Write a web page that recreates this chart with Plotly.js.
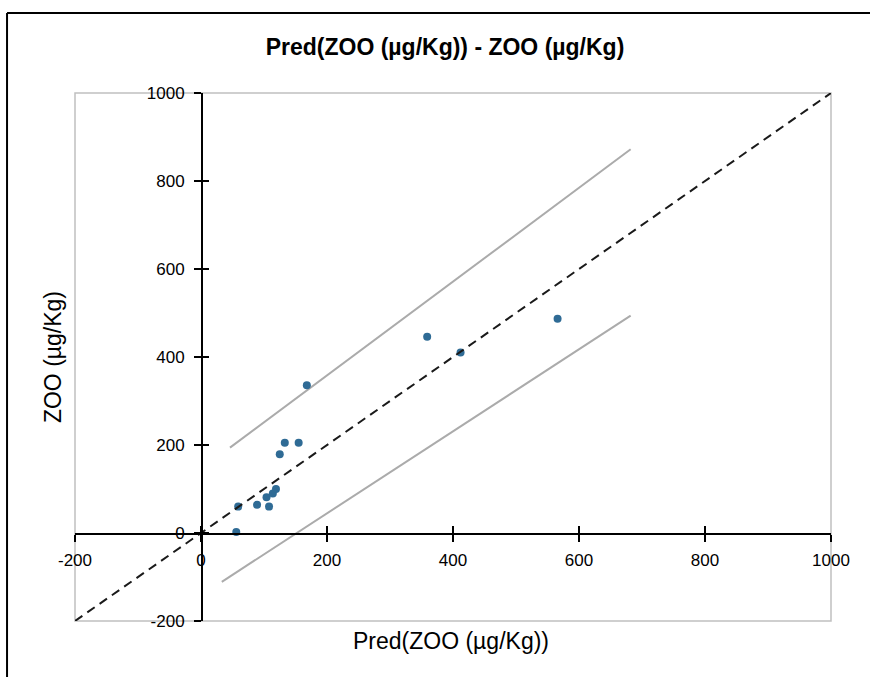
<!DOCTYPE html>
<html>
<head>
<meta charset="utf-8">
<script src="https://cdn.plot.ly/plotly-3.0.1.min.js"></script>
<style>html,body{margin:0;padding:0;background:#fff;}#chart{width:870px;height:677px;}</style>
</head>
<body>
<div id="chart"></div>
<script>
// Observed points: Pred(ZOO) vs ZOO (µg/Kg)
var predZOO = [56, 59, 89, 108, 104, 114, 119, 125, 133, 155, 168, 359, 412, 566];
var obsZOO  = [2, 60, 64, 60, 81, 90, 100, 179, 205, 205, 336, 446, 410, 487];

// Identity line
var identX = [-200, 1000];
var identY = [-200, 1000];

// Upper and lower band lines
var upperX = [46, 682];
var upperY = [194, 872];
var lowerX = [33, 682];
var lowerY = [-111, 494];

var tickVals = [-200, 0, 200, 400, 600, 800, 1000];
var tickText = ['-200', '0', '200', '400', '600', '800', '1000'];

var fontFam = 'Liberation Sans, Arial, sans-serif';

var traces = [
  {x: upperX, y: upperY, mode: 'lines', type: 'scatter', line: {color: '#ababab', width: 2}, hoverinfo: 'skip'},
  {x: lowerX, y: lowerY, mode: 'lines', type: 'scatter', line: {color: '#ababab', width: 2}, hoverinfo: 'skip'},
  {x: identX, y: identY, mode: 'lines', type: 'scatter', xaxis: 'x2', yaxis: 'y2',
   line: {color: '#1a1a1a', width: 2, dash: '9px,6px'}, hoverinfo: 'skip'},
  {x: predZOO, y: obsZOO, mode: 'markers', type: 'scatter',
   marker: {color: '#2f6b95', size: 8}}
];

var axCommon = {
  range: [-200, 1000], autorange: false, showgrid: false, zeroline: false,
  tickvals: tickVals, ticktext: tickText,
  showline: true, linecolor: '#000', linewidth: 1.5,
  tickcolor: '#000', tickwidth: 1.5, ticklen: 7,
  tickfont: {family: fontFam, size: 17, color: '#000'},
  anchor: 'free', position: 1/6
};

var layout = {
  width: 870, height: 677,
  margin: {l: 75, r: 39, t: 93, b: 56},
  paper_bgcolor: '#fff', plot_bgcolor: '#fff',
  showlegend: false,
  title: {
    text: 'Pred(ZOO (µg/Kg)) - ZOO (µg/Kg)',
    font: {family: fontFam, size: 23, color: '#000', weight: 'bold'},
    xref: 'container', yref: 'container', x: 0.5115, xanchor: 'center',
    y: 0.93, yanchor: 'middle'
  },
  xaxis: Object.assign({}, axCommon, {ticks: 'outside', ticklabelstandoff: 4}),
  yaxis: Object.assign({}, axCommon, {ticks: 'outside', ticklabelstandoff: 6}),
  xaxis2: Object.assign({}, axCommon, {overlaying: 'x', ticks: 'inside', showticklabels: false, showline: false}),
  yaxis2: Object.assign({}, axCommon, {overlaying: 'y', ticks: 'inside', showticklabels: false, showline: false}),
  shapes: [
    {type: 'rect', xref: 'paper', yref: 'paper', x0: 0, x1: 1, y0: 0, y1: 1,
     line: {color: '#c0c0c0', width: 1.5}, layer: 'below'},
    {type: 'line', xref: 'paper', yref: 'paper', x0: -0.0899, x1: 1.2, y0: 1.1515, y1: 1.1515,
     line: {color: '#000', width: 2}, layer: 'below'},
    {type: 'line', xref: 'paper', yref: 'paper', x0: -0.0899, x1: -0.0899, y0: -0.2, y1: 1.1515,
     line: {color: '#000', width: 2}, layer: 'below'}
  ],
  annotations: [
    {text: 'Pred(ZOO (µg/Kg))', xref: 'paper', yref: 'paper', x: 0.498, y: -0.038,
     xanchor: 'center', yanchor: 'middle', showarrow: false,
     font: {family: fontFam, size: 23, color: '#000'}},
    {text: 'ZOO (µg/Kg)', xref: 'paper', yref: 'paper', x: -0.029, y: 0.5,
     xanchor: 'center', yanchor: 'middle', showarrow: false, textangle: -90,
     font: {family: fontFam, size: 23, color: '#000'}}
  ]
};

Plotly.newPlot('chart', traces, layout, {displayModeBar: false, staticPlot: true});
</script>
</body>
</html>
